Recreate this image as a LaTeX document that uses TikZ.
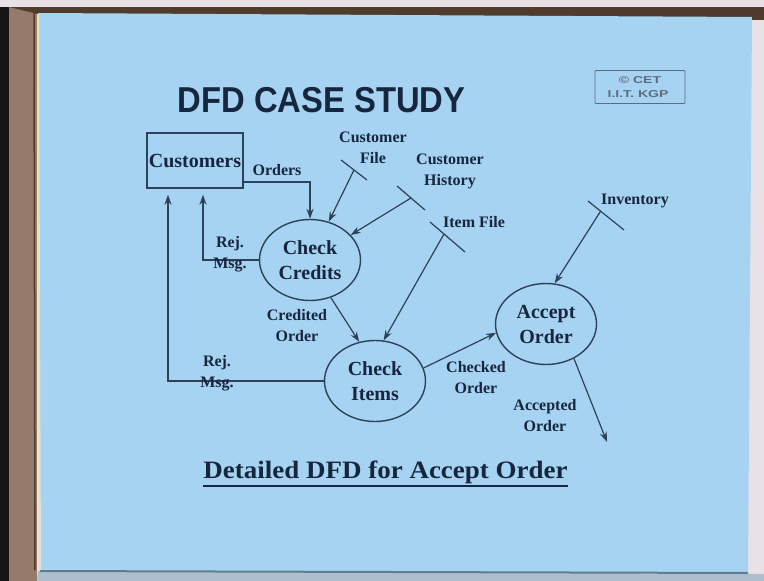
\documentclass[tikz,border=0pt]{standalone}
\usepackage{fontspec}
\setmainfont{Liberation Serif}
\newfontfamily\sansf{Liberation Sans}
\usetikzlibrary{arrows.meta,calc,shapes.geometric}
\definecolor{slide}{RGB}{166,211,241}
\definecolor{ink}{RGB}{22,38,62}
\definecolor{wire}{RGB}{45,65,88}
\definecolor{wood}{RGB}{150,122,108}
\definecolor{woodd}{RGB}{80,60,45}
\definecolor{cetgray}{RGB}{95,108,125}
\definecolor{paleedge}{RGB}{232,226,230}
\definecolor{lowedge}{RGB}{175,190,205}
\definecolor{slideline}{RGB}{95,125,145}
\definecolor{lightrim}{RGB}{230,226,190}
\begin{document}
\begin{tikzpicture}[x=1pt,y=-1pt,
  proc/.style={ellipse, draw=wire, line width=1.4pt, minimum width=101pt, minimum height=81pt,
    inner sep=0pt, text=ink, font=\bfseries\fontsize{20}{25}\selectfont, align=center},
  lbl/.style={text=ink, font=\bfseries\fontsize{16}{21}\selectfont, align=center, inner sep=0pt},
  flow/.style={draw=wire, line width=1.2pt, -{Stealth[length=10pt,width=7pt]}},
  storeln/.style={draw=wire, line width=1.2pt},
  cettext/.style={text=cetgray, font=\sansf\bfseries\fontsize{10}{12}\selectfont, xscale=1.4, inner sep=0pt}]
\useasboundingbox (0,0) rectangle (764,581);
% frame and slide
\fill[paleedge] (0,0) rectangle (764,581);
\fill[black!92] (0,7) rectangle (9,581);
\fill[wood] (9,7) rectangle (37,581);
\draw[woodd, line width=1.5pt] (34,12) -- (35,570);
\fill[woodd] (9,7) -- (764,7) -- (764,20) -- (38,14) -- cycle;
\fill[lowedge] (38,571) -- (764,574) -- (764,581) -- (37,581) -- cycle;
\fill[slide] (38,13) -- (752,17) -- (748,573) -- (40,571) -- cycle;
\draw[slideline, line width=2pt] (40,571) -- (748,573);
\draw[lightrim, line width=2pt] (38,14) -- (40,570);
% titles
\node[text=ink, font=\sansf\bfseries\fontsize{36}{40}\selectfont, xscale=0.91, inner sep=0pt] (title) at (321.5,100.5) {DFD CASE STUDY};
\node[draw=cetgray, line width=0.8pt, rounded corners=1pt, minimum width=90pt, minimum height=33pt, inner sep=0pt] (cet) at (640,87) {};
\node[cettext] (cet1) at (640,80.5) {\textcopyright\ CET};
\node[cettext] (cet2) at (638,94) {I.I.T. KGP};
\node[text=ink, font=\bfseries\fontsize{25}{30}\selectfont, anchor=base, xscale=1.08, inner sep=0pt] (bt) at (385.5,478) {Detailed DFD for Accept Order};
\draw[ink, line width=1.8pt] ([yshift=-8pt]bt.base west) -- ([yshift=-8pt]bt.base east);
% entity and processes
\node[draw=wire, line width=1.4pt, minimum width=96pt, minimum height=55pt, inner sep=0pt,
  text=ink, font=\bfseries\fontsize{20}{25}\selectfont] (cust) at (195,160.5) {Customers};
\node[proc] (cc) at (310,260) {Check\\Credits};
\node[proc] (ci) at (375,381) {Check\\Items};
\node[proc] (ao) at (546,324) {Accept\\Order};
% stores
\coordinate (cf1) at (341,160); \coordinate (cf2) at (367,180);
\coordinate (ch1) at (397,186); \coordinate (ch2) at (425,210);
\coordinate (if1) at (430,222); \coordinate (if2) at (465,252);
\coordinate (iv1) at (588,201); \coordinate (iv2) at (624,230);
\draw[storeln] (cf1) -- (cf2);
\draw[storeln] (ch1) -- (ch2);
\draw[storeln] (if1) -- (if2);
\draw[storeln] (iv1) -- (iv2);
\coordinate (cfm) at ($(cf1)!0.5!(cf2)$);
\coordinate (chm) at ($(ch1)!0.5!(ch2)$);
\coordinate (ifm) at ($(if1)!0.4!(if2)$);
\coordinate (ivm) at ($(iv1)!0.35!(iv2)$);
\coordinate (out) at (607,442);
% flows
\draw[flow] ([yshift=-21.5pt]cust.east) -| (cc.north);
\draw[flow] (cfm) -- (cc);
\draw[flow] (chm) -- (cc);
\draw[flow] (ifm) -- (ci.78);
\draw[flow] (ivm) -- (ao.78);
\draw[flow, shorten >=6pt] (cc.west) -| ([xshift=8pt]cust.south);
\draw[flow, shorten >=6pt] (ci.west) -| ([xshift=-27pt]cust.south);
\draw[flow] (cc.-61) -- (ci.112);
\draw[flow] (ci.15) -- (ao.190);
\draw[flow] (ao.-51) -- (out);
% labels
\node[lbl] (lorders) at (277,170) {Orders};
\node[lbl] (lcf) at (373,148) {Customer\\File};
\node[lbl] (lch) at (450,171) {Customer\\History};
\node[lbl] (lif) at (474,222) {Item File};
\node[lbl] (linv) at (635,201) {Inventory};
\node[lbl] (lrej1) at (230,254) {Rej.\\Msg.};
\node[lbl] (lrej2) at (217,373) {Rej.\\Msg.};
\node[lbl] (lcred) at (297,326) {Credited\\Order};
\node[lbl] (lchk) at (476,378) {Checked\\Order};
\node[lbl] (lacc) at (545,416) {Accepted\\Order};
\end{tikzpicture}
\end{document}
